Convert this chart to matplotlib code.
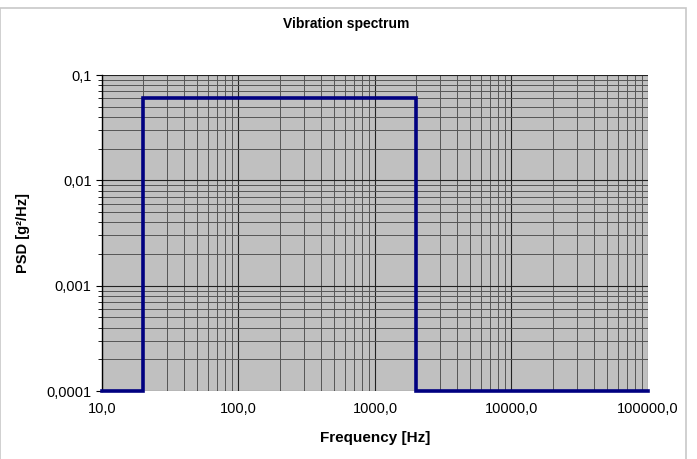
import numpy as np
import matplotlib
matplotlib.use("Agg")
from matplotlib import pyplot as plt
from matplotlib.ticker import FuncFormatter, LogLocator, NullFormatter
from matplotlib.patches import Rectangle

# spectrum corners
freq = [10, 20, 20, 2000, 2000, 100000]
psd = [0.0001, 0.0001, 0.06, 0.06, 0.0001, 0.0001]

plt.rcParams['font.family'] = ['Liberation Sans', 'DejaVu Sans']

fig = plt.figure(figsize=(6.97, 4.59), dpi=100)
ax = fig.add_axes([0.1463, 0.1481, 0.7834, 0.6885])
ax.set_facecolor('#c0c0c0')

ax.plot(freq, psd, color='#000080', linewidth=2.6, solid_joinstyle='miter', zorder=3, clip_on=False)
ax.set_xscale('log')
ax.set_yscale('log')
ax.set_xlim(10, 100000)
ax.set_ylim(0.0001, 0.1)

ax.xaxis.set_minor_locator(LogLocator(base=10, subs=np.arange(2, 10)))
ax.yaxis.set_minor_locator(LogLocator(base=10, subs=np.arange(2, 10)))
ax.xaxis.set_minor_formatter(NullFormatter())
ax.yaxis.set_minor_formatter(NullFormatter())
ax.xaxis.set_major_formatter(FuncFormatter(lambda v, p: f'{v:.1f}'.replace('.', ',')))
ax.yaxis.set_major_formatter(FuncFormatter(lambda v, p: f'{v:g}'.replace('.', ',')))

ax.grid(True, which='major', color='#222222', linewidth=0.8)
ax.grid(True, which='minor', color='#555555', linewidth=0.7)
ax.set_axisbelow(True)

ax.tick_params(axis='x', which='both', length=0, labelsize=10.5, pad=8)
ax.tick_params(axis='y', which='major', length=4, labelsize=10.5, direction='out')
ax.tick_params(axis='y', which='minor', length=3, direction='out')
for s in ['top', 'right']:
    ax.spines[s].set_visible(False)
ax.spines['left'].set_linewidth(1.0)
ax.spines['bottom'].set_visible(False)

ax.set_xlabel('Frequency [Hz]', fontsize=11, fontweight='bold', labelpad=11)
ax.set_ylabel('PSD [g²/Hz]', fontsize=10.5, fontweight='bold', labelpad=12)
fig.text(0.497, 0.948, 'Vibration spectrum', ha='center', va='center', fontsize=10, fontweight='bold')

fig.patches.append(Rectangle((0.0, -0.01), 0.984, 0.993, transform=fig.transFigure,
                             fill=False, edgecolor='#c8c8c8', linewidth=1.2))

plt.savefig('out.png', dpi=100)
